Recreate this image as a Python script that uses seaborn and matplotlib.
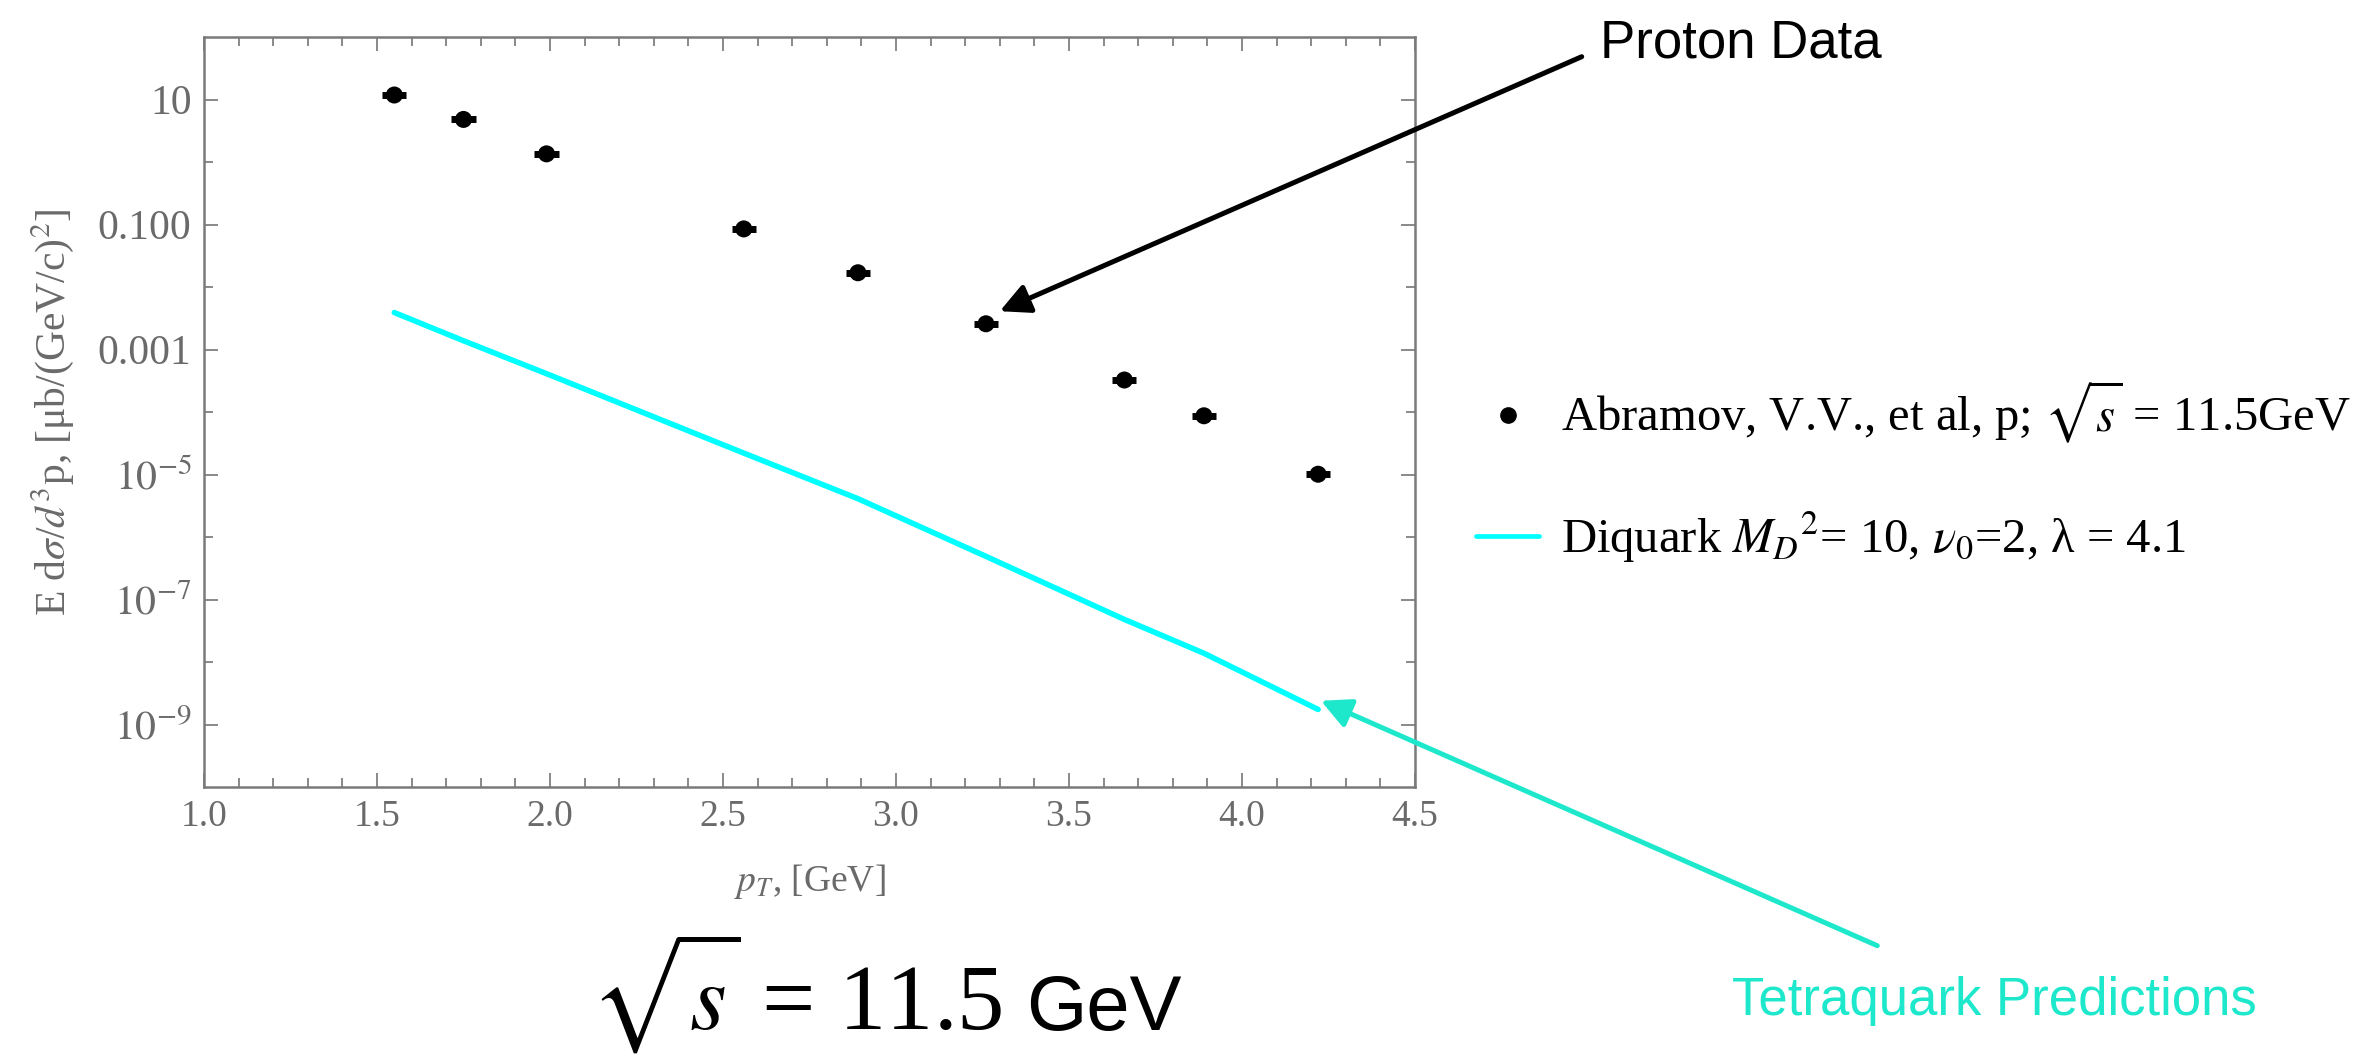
import numpy as np
import pandas as pd
import matplotlib
matplotlib.use("Agg")
import matplotlib.pyplot as plt
import seaborn as sns
from matplotlib.ticker import FixedLocator, FixedFormatter, NullFormatter
from matplotlib.lines import Line2D

# ---------------- data ----------------
proton_pt = [1.55, 1.75, 1.99, 2.56, 2.89, 3.26, 3.66, 3.89, 4.22]
proton_val = [11.8, 4.8, 1.35, 0.085, 0.0169, 0.00258, 3.25e-4, 8.7e-5, 1.01e-5]
proton_pt_err = [0.035, 0.035, 0.035, 0.035, 0.035, 0.035, 0.035, 0.035, 0.035]

diquark_pt = [1.55, 1.75, 2.0, 2.56, 2.89, 3.26, 3.66, 3.89, 4.22]
diquark_val = [3.9e-3, 1.38e-3, 3.9e-4, 2.2e-5, 4.1e-6, 4.9e-7, 4.8e-8, 1.38e-8, 1.74e-9]

ytick_vals = [1e1, 1e-1, 1e-3, 1e-5, 1e-7, 1e-9]
ytick_labels = ["10", "0.100", "0.001", r"$10^{-5}$", r"$10^{-7}$", r"$10^{-9}$"]
yminor_vals = [1e0, 1e-2, 1e-4, 1e-6, 1e-8]
xtick_vals = [1.0, 1.5, 2.0, 2.5, 3.0, 3.5, 4.0, 4.5]
xtick_labels = ["1.0", "1.5", "2.0", "2.5", "3.0", "3.5", "4.0", "4.5"]
xminor_vals = [1.1, 1.2, 1.3, 1.4, 1.6, 1.7, 1.8, 1.9, 2.1, 2.2, 2.3, 2.4,
               2.6, 2.7, 2.8, 2.9, 3.1, 3.2, 3.3, 3.4, 3.6, 3.7, 3.8, 3.9,
               4.1, 4.2, 4.3, 4.4]

legend_labels = [r"Abramov, V.V., et al, p; $\sqrt{s}$ = 11.5GeV",
                 r"Diquark $M_D{}^2$= 10, $\nu_0$=2, λ = 4.1"]

# ---------------- style ----------------
sns.set_theme(style="ticks")
plt.rcParams["font.family"] = ["Liberation Serif", "DejaVu Serif"]
plt.rcParams["mathtext.fontset"] = "stix"

W, H = 2378, 1060
fig = plt.figure(figsize=(W / 100, H / 100), dpi=100)
fig.patch.set_facecolor("white")

ax_l, ax_r, ax_t, ax_b = 204, 1415, 37, 787
ax = fig.add_axes([ax_l / W, 1 - ax_b / H, (ax_r - ax_l) / W, (ax_b - ax_t) / H])
ax.set_facecolor("white")
ax.set_yscale("log")

df_p = pd.DataFrame({"pT": proton_pt, "val": proton_val})
df_d = pd.DataFrame({"pT": diquark_pt, "val": diquark_val})

cyan = "#00ffff"
teal = "#1ee8cc"
gray = "#6a6a6a"

sns.lineplot(data=df_d, x="pT", y="val", ax=ax, color=cyan, lw=4.0,
             estimator=None, legend=False, zorder=2)
ax.errorbar(proton_pt, proton_val, xerr=proton_pt_err, fmt="none",
            ecolor="black", elinewidth=5, capsize=0, zorder=3)
sns.scatterplot(data=df_p, x="pT", y="val", ax=ax, color="black", s=150,
                edgecolor="none", legend=False, zorder=4)

ax.set_xlim(1.0, 4.5)
ax.set_ylim(1e-10, 1e2)

ax.xaxis.set_major_locator(FixedLocator(xtick_vals))
ax.xaxis.set_major_formatter(FixedFormatter(xtick_labels))
ax.xaxis.set_minor_locator(FixedLocator(xminor_vals))
ax.xaxis.set_minor_formatter(NullFormatter())
ax.yaxis.set_major_locator(FixedLocator(ytick_vals))
ax.yaxis.set_major_formatter(FixedFormatter(ytick_labels))
ax.yaxis.set_minor_locator(FixedLocator(yminor_vals))
ax.yaxis.set_minor_formatter(NullFormatter())

ax.tick_params(which="both", direction="in", top=True, right=True,
               color=gray, width=1.1, labelcolor=gray, labelsize=27, pad=9)
ax.tick_params(axis="y", labelsize=30)
ax.tick_params(which="major", length=10)
ax.tick_params(which="minor", length=6.5)
for sp in ax.spines.values():
    sp.set_visible(True)
    sp.set_color("#7a7a7a")
    sp.set_linewidth(1.8)

ax.set_xlabel(r"$p_T$, [GeV]", fontsize=27, color=gray, va="top")
ax.xaxis.set_label_coords(0.5, -0.10)
ax.set_ylabel(r"E d$\sigma$/$d^3$p, [μb/(GeV/c)$^2$]", fontsize=30, color=gray)
ax.yaxis.set_label_coords(-0.106, 0.5)

# ---------------- legend ----------------
handles = [Line2D([], [], marker="o", color="black", ls="none", markersize=11),
           Line2D([], [], color=cyan, lw=3.4)]
leg = ax.legend(handles, legend_labels, loc="center left",
                bbox_to_anchor=(1476 / W, 1 - 472 / H), bbox_transform=fig.transFigure,
                frameon=False, fontsize=35, handlelength=1.3, handletextpad=0.45,
                labelspacing=1.3, borderpad=0, borderaxespad=0)
for t in leg.get_texts():
    t.set_color("black")

# ---------------- annotations ----------------
ax.annotate("", xy=(3.30, 4.1e-3), xycoords="data",
            xytext=(1581.7 / W, 1 - 56.7 / H), textcoords="figure fraction",
            arrowprops=dict(arrowstyle="-|>", lw=3.6, color="black",
                            mutation_scale=45, shrinkA=0, shrinkB=0),
            annotation_clip=False, zorder=6)
fig.text(1600 / W, 1 - 57.7 / H, "Proton Data", family=["Liberation Sans", "DejaVu Sans"],
         fontsize=38, color="black", ha="left", va="baseline")

ax.annotate("", xy=(4.228, 2.4e-9), xycoords="data",
            xytext=(1877.3 / W, 1 - 945.7 / H), textcoords="figure fraction",
            arrowprops=dict(arrowstyle="-|>", lw=3.6, color=teal,
                            mutation_scale=45, shrinkA=0, shrinkB=0),
            annotation_clip=False, zorder=6)
fig.text(1732 / W, 1 - 1015 / H, "Tetraquark Predictions",
         family=["Liberation Sans", "DejaVu Sans"], fontsize=38, color=teal,
         ha="left", va="baseline")

# big energy label
t_main = fig.text(590 / W, 1 - 1030 / H, r"$\sqrt{s}$ = 11.5", fontsize=68,
                  color="black", ha="left", va="baseline")
fig.canvas.draw()
bb = t_main.get_window_extent(renderer=fig.canvas.get_renderer())
fig.text((bb.x1 + 24) / W, 1 - 1030 / H, "GeV", family=["Liberation Sans", "DejaVu Sans"],
         fontsize=56, color="black", ha="left", va="baseline")

fig.savefig("out.png", dpi=100, facecolor="white")
